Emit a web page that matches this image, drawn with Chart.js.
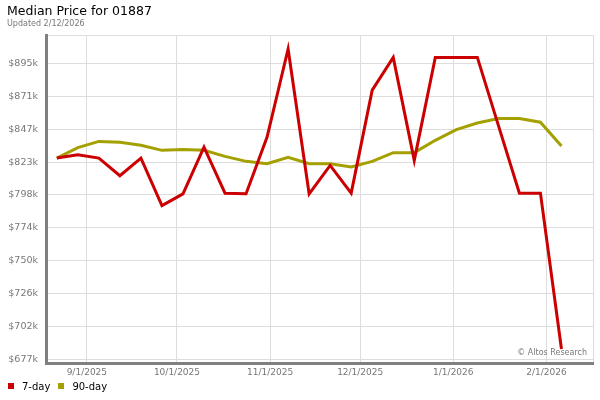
<!DOCTYPE html>
<html>
<head>
<meta charset="utf-8">
<script src="https://cdn.jsdelivr.net/npm/chart.js@4/dist/chart.umd.min.js"></script>
<style>
  body { margin:0; background:#fff; font-family:'DejaVu Sans', sans-serif; }
  #wrap { position:relative; width:600px; height:400px; }
  #priceChart { position:absolute; left:0; top:0; }
  .title { position:absolute; left:7px; top:3px; font-size:12.5px; color:#000; }
  .sub { position:absolute; left:7px; top:19px; font-size:8px; color:#777; }
  .credit { position:absolute; right:13px; top:348px; font-size:8px; color:#777; }
  #legend { position:absolute; left:8px; top:381px; font-size:10px; color:#000; }
  #legend span.item { margin-right:8px; }
  #legend i { display:inline-block; width:6px; height:6px; margin-right:8px; vertical-align:1px; }
</style>
</head>
<body>
<div id="wrap">
  <canvas id="priceChart" width="600" height="400"></canvas>
  <div class="title">Median Price for 01887</div>
  <div class="sub">Updated 2/12/2026</div>
  <div class="credit">&copy; Altos Research</div>
  <div id="legend"></div>
</div>
<script>
// Weekly data points
const weeks = [
  '2025-08-22','2025-08-29','2025-09-05','2025-09-12','2025-09-19','2025-09-26',
  '2025-10-03','2025-10-10','2025-10-17','2025-10-24','2025-10-31','2025-11-07',
  '2025-11-14','2025-11-21','2025-11-28','2025-12-05','2025-12-12','2025-12-19',
  '2025-12-26','2026-01-02','2026-01-09','2026-01-16','2026-01-23','2026-01-30',
  '2026-02-06'
];
const price7day = [
  825500, 828000, 825500, 812500, 825500, 790600, 799200, 833600, 799700, 799200,
  841000, 905800, 799200, 820100, 799700, 875500, 899600, 823800, 899600, 899600,
  899600, 849600, 799700, 799700, 685000
];
const price90day = [
  825500, 833200, 837800, 837100, 834900, 831200, 831900, 831200, 826800, 823100,
  821400, 826000, 821400, 821400, 818900, 823100, 829500, 829500, 838600, 846500,
  851300, 854600, 854600, 851900, 834400
];
const yTicks = [677400, 701600, 725800, 750000, 774200, 798400, 822600, 846800, 871000, 895200];
const xTicks = ['2025-09-01','2025-10-01','2025-11-01','2025-12-01','2026-01-01','2026-02-01'];

const seriesNames = ['7-day', '90-day'];
const seriesColors = ['#cc0000', '#a3a000'];

function dayNum(s){
  const [y,m,d] = s.split('-').map(Number);
  return Date.UTC(y, m-1, d) / 86400000;
}
function dateLabel(n){
  const d = new Date(n * 86400000);
  return (d.getUTCMonth()+1) + '/' + d.getUTCDate() + '/' + d.getUTCFullYear();
}

const xMin = dayNum(xTicks[0]) - 13.6;
const xMax = dayNum(xTicks[xTicks.length-1]) + 15.5;
const yMin = 674700, yMax = 916100;

const tickFont = { family:'DejaVu Sans', size:9 };

const ctx = document.getElementById('priceChart').getContext('2d');
const priceChart = new Chart(ctx, {
  type:'line',
  data:{
    datasets: [price7day, price90day].map((vals, i) => ({
      label: seriesNames[i],
      data: vals.map((v, j) => ({ x: dayNum(weeks[j]), y: v })),
      borderColor: seriesColors[i],
      borderWidth: 3,
      pointRadius: 0,
      tension: 0,
      fill: false
    }))
  },
  options:{
    responsive:false,
    animation:false,
    layout:{ padding:{ top:35, right:7, left:0, bottom:0 } },
    plugins:{ legend:{ display:false }, tooltip:{ enabled:false } },
    scales:{
      x:{
        type:'linear', min:xMin, max:xMax,
        afterFit: s => { s.height = 37; },
        afterBuildTicks: s => {
          s.ticks = [{value:xMin}].concat(xTicks.map(t => ({ value: dayNum(t) })), [{value:xMax}]);
        },
        ticks:{
          autoSkip:false, maxRotation:0, padding:4, color:'#777', font:tickFont,
          callback: (v) => (v === xMin || v === xMax) ? '' : dateLabel(v)
        },
        grid:{ color:'#dddddd', drawTicks:false },
        border:{ color:'#808080', width:3 }
      },
      y:{
        type:'linear', min:yMin, max:yMax,
        afterFit: s => { s.width = 46; },
        afterBuildTicks: s => {
          s.ticks = [{value:yMin}].concat(yTicks.map(v => ({ value: v })), [{value:yMax}]);
        },
        ticks:{
          autoSkip:false, padding:8, color:'#777', font:{ family:'DejaVu Sans', size:9.5 },
          callback: (v) => (v === yMin || v === yMax) ? '' : '$' + Math.round(v/1000) + 'k'
        },
        grid:{ color:'#dddddd', drawTicks:false },
        border:{ color:'#808080', width:3 }
      }
    }
  }
});

// Legend
document.getElementById('legend').innerHTML = seriesNames.map((n, i) =>
  `<span class="item"><i style="background:${seriesColors[i]}"></i>${n}</span>`).join('');
</script>
</body>
</html>
